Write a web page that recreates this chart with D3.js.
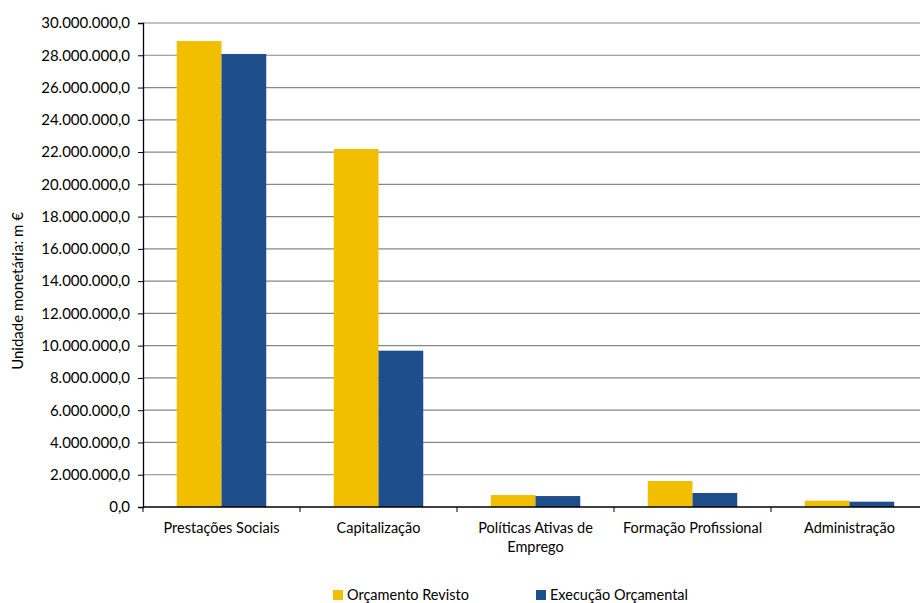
<!DOCTYPE html>
<html><head><meta charset="utf-8">
<script src="https://cdn.jsdelivr.net/npm/d3@7"></script>
<style>body{margin:0;background:#fff}svg{display:block;font-family:Lato,"Open Sans",sans-serif}</style>
</head><body>
<svg id="c" width="920" height="603"></svg>
<script>
const categories = ["Prestações Sociais","Capitalização","Políticas Ativas de Emprego","Formação Profissional","Administração"];
const orcamentoRevisto = [28880000, 22190000, 740000, 1610000, 390000];
const execucaoOrcamental = [28080000, 9690000, 680000, 870000, 330000];
const seriesNames = ["Orçamento Revisto","Execução Orçamental"];
const yTicks = [0,2e6,4e6,6e6,8e6,10e6,12e6,14e6,16e6,18e6,20e6,22e6,24e6,26e6,28e6,30e6];
const colors = ["#F2BE00","#1F4E8C"];

const svg = d3.select("#c");
const m = {l:143, t:23, r:928, b:507};
const x = d3.scaleBand().domain(categories).range([m.l, m.r]).paddingInner(0.43).paddingOuter(0.215);
const xb = d3.scaleBand().domain(categories).range([m.l, m.r]);
const y = d3.scaleLinear().domain([0,30e6]).range([m.b, m.t]);
const xs = d3.scaleBand().domain([0,1]).range([0, x.bandwidth()]);

const fmt = v => {
  const s = d3.format(",.1f")(v);
  return s.replace(/,/g,"#").replace(".",",").replace(/#/g,".");
};

// gridlines
svg.append("g").selectAll("line").data(yTicks.filter(d=>d>0)).join("line")
  .attr("x1", m.l).attr("x2", m.r).attr("y1", d=>y(d)).attr("y2", d=>y(d))
  .attr("stroke","#868686").attr("stroke-width",1.2);

// bars
const series = [orcamentoRevisto, execucaoOrcamental];
series.forEach((vals, si) => {
  svg.append("g").selectAll("rect").data(categories).join("rect")
    .attr("x", c => x(c) + xs(si))
    .attr("width", xs.bandwidth())
    .attr("y", (c,i) => y(vals[i]))
    .attr("height", (c,i) => y(0) - y(vals[i]))
    .attr("fill", colors[si]);
});

// y axis
const yAxis = d3.axisLeft(y).tickValues(yTicks).tickFormat(fmt).tickSize(5).tickPadding(8);
const gy = svg.append("g").attr("transform",`translate(${m.l},0)`).call(yAxis);
gy.select(".domain").attr("stroke","#000").attr("stroke-width",1.3);
gy.selectAll(".tick line").attr("stroke","#000");
gy.selectAll("text").attr("font-size",15).attr("fill","#000").attr("font-family","Lato");

// x axis
const gx = svg.append("g").attr("transform",`translate(0,${m.b})`);
gx.append("line").attr("x1",m.l).attr("x2",m.r).attr("stroke","#000").attr("stroke-width",1.3);
gx.selectAll(".tk").data(categories).join("line").attr("class","tk")
  .attr("x1", c=>xb(c)).attr("x2", c=>xb(c)).attr("y1",0).attr("y2",5).attr("stroke","#000");
const labels = gx.selectAll(".lbl").data(categories).join("text").attr("class","lbl")
  .attr("x", c=>xb(c)+xb.bandwidth()/2).attr("y", 26)
  .attr("text-anchor","middle").attr("font-size",14.5).attr("fill","#000");
labels.each(function(c){
  const t = d3.select(this);
  if (c === "Políticas Ativas de Emprego") {
    t.append("tspan").attr("x", xb(c)+xb.bandwidth()/2).attr("dy",0).text("Políticas Ativas de");
    t.append("tspan").attr("x", xb(c)+xb.bandwidth()/2).attr("dy",19).text("Emprego");
  } else t.text(c);
});

// y title
svg.append("text").attr("transform","translate(23,291) rotate(-90)").attr("text-anchor","middle")
  .attr("font-size",15).attr("fill","#000").text("Unidade monetária: m €");

// legend
const legX = [333, 536];
seriesNames.forEach((n,i)=>{
  svg.append("rect").attr("x",legX[i]).attr("y",590).attr("width",10).attr("height",10).attr("fill",colors[i]);
  svg.append("text").attr("x",legX[i]+14).attr("y",600).attr("font-size",14.5).attr("fill","#000").text(n);
});
</script>
</body></html>
